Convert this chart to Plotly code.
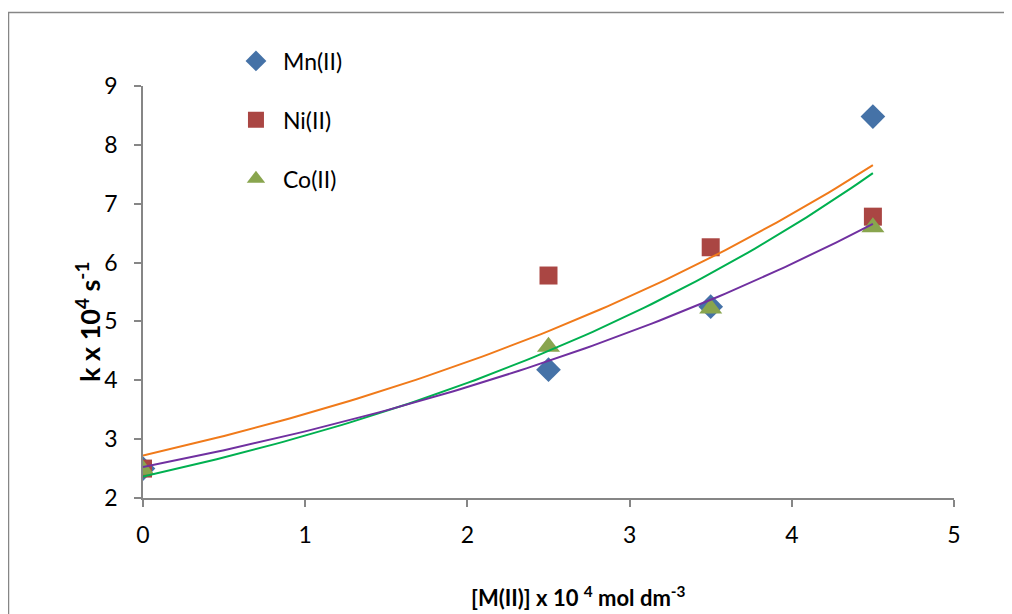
import numpy as np
import plotly.graph_objects as go

conc = [0, 2.5, 3.5, 4.5]
mn_k = [2.50, 4.18, 5.25, 8.48]
ni_k = [2.50, 5.78, 6.26, 6.78]
co_k = [2.48, 4.57, 5.22, 6.60]

series = [
    ("Mn(II)", mn_k, "diamond", 19, "#4572A7", "#00B050"),
    ("Ni(II)", ni_k, "square", 18, "#AA4643", "#F07A1A"),
    ("Co(II)", co_k, "triangle-up", 20, "#89A54E", "#7030A0"),
]

FONT = "Lato"
fig = go.Figure()
for i, (name, ys, sym, size, col, tcol) in enumerate(series):
    fig.add_trace(go.Scatter(x=conc, y=ys, mode="markers", name=name,
                             legendgroup=f"g{i}",
                             marker=dict(symbol=sym, size=size, color=col)))
xs = np.linspace(min(conc), max(conc), 100)
# exponential trendlines (least squares on ln y, as a spreadsheet does), drawn above markers
for name, ys, sym, size, col, tcol in series:
    b, lna = np.polyfit(conc, np.log(ys), 1)
    fig.add_trace(go.Scatter(x=xs, y=np.exp(lna) * np.exp(b * xs), mode="lines",
                             line=dict(color=tcol, width=2), showlegend=False,
                             hoverinfo="skip"))

axis_common = dict(showline=True, linecolor="#868686", linewidth=1.5,
                   ticks="outside", ticklen=7, tickcolor="#868686", tickwidth=1.5,
                   showgrid=False, zeroline=False,
                   tickfont=dict(family=FONT, size=23, color="black"))

# plot area in window pixels: x 143..954, y 86..498 (figure div is offset 8px by page margin)
PW, PH = 811, 412
fig.update_layout(
    width=1004, height=606,
    margin=dict(l=135, r=58, t=78, b=116),
    plot_bgcolor="white", paper_bgcolor="white",
    xaxis=dict(range=[0, 5], tickvals=[0, 1, 2, 3, 4, 5], ticklabelstandoff=9, **axis_common),
    yaxis=dict(range=[2, 9], tickvals=[2, 3, 4, 5, 6, 7, 8, 9], ticklabelstandoff=12,
               **axis_common),
    legend=dict(x=0.106, y=1.113, xanchor="left", yanchor="top",
                font=dict(family=FONT, size=23, color="black"),
                itemwidth=44, tracegroupgap=26, bgcolor="rgba(0,0,0,0)"),
    showlegend=True,
    annotations=[
        dict(text="<b>[M(II)] x 10 <sup>4</sup> mol dm<sup>-3</sup></b>", xref="paper", yref="paper",
             x=(578 - 143) / PW, y=-(596 - 498) / PH, xanchor="center", yanchor="middle",
             showarrow=False, font=dict(family=FONT, size=22, color="black")),
        dict(text="<b>k x 10<sup>4</sup> s<sup>-1</sup></b>", xref="paper", yref="paper",
             x=-(143 - 88) / PW, y=(498 - 322) / PH, xanchor="center", yanchor="middle",
             textangle=-90, showarrow=False,
             font=dict(family=FONT, size=27, color="black")),
    ],
    shapes=[dict(type="rect", xref="paper", yref="paper",
                 x0=-(143 - 8.5) / PW, x1=(1030 - 143) / PW,
                 y0=-(640 - 498) / PH, y1=(498 - 12.5) / PH,
                 line=dict(color="#868686", width=1.5), layer="below")],
)
fig.write_html("out.html")
